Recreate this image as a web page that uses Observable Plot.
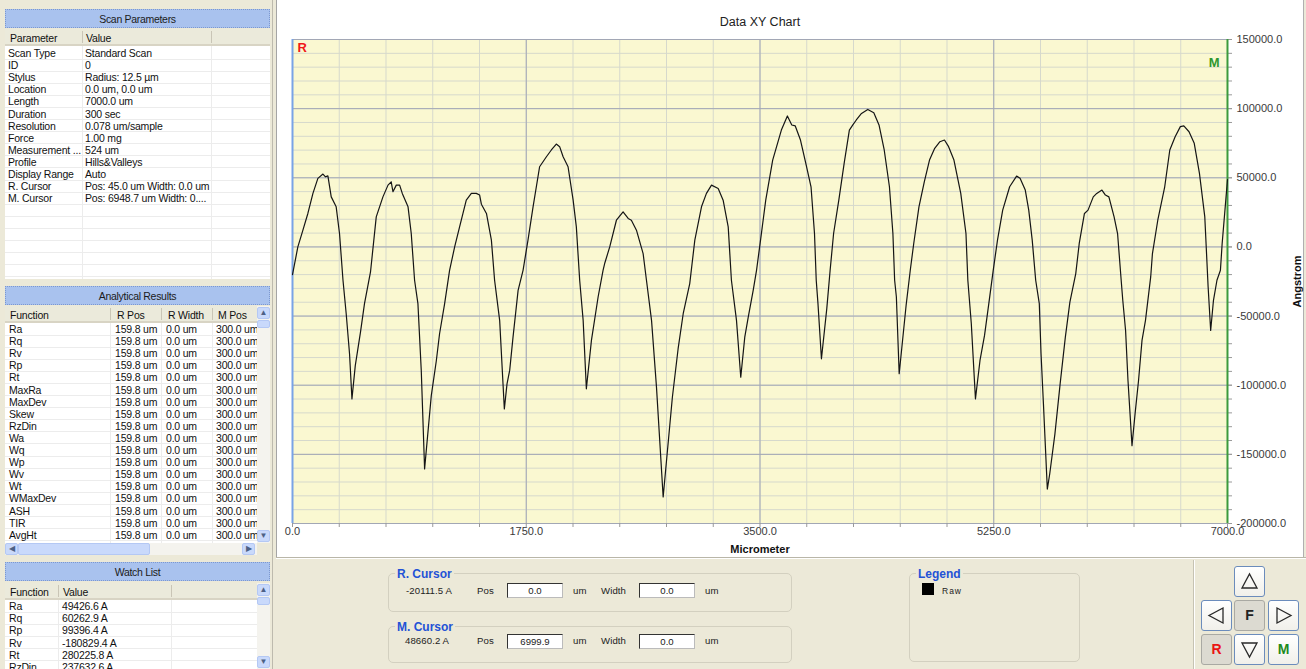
<!DOCTYPE html>
<html><head><meta charset="utf-8">
<script src="https://cdn.jsdelivr.net/npm/d3@7"></script>
<script src="https://cdn.jsdelivr.net/npm/@observablehq/plot@0.6"></script>
<style>
html,body{margin:0;padding:0}
body{width:1306px;height:669px;overflow:hidden;background:#ECE9D8;position:relative;font-family:"Liberation Sans",Arial,sans-serif;font-size:10.5px;color:#111}
.a{position:absolute;box-sizing:border-box}
.t{position:absolute;white-space:nowrap;height:14px;line-height:14px;letter-spacing:-0.2px}
#chart{position:absolute;left:276px;top:0}
</style></head><body>
<script>
// ---- Profile data (Micrometer vs Angstrom) ----
const xPos = [0,40,78,115,153,190,228,247,265,290,327,352,378,402,427,445,470,509,539,584,627,677,715,739,752,777,802,822,865,889,914,939,964,989,1039,1077,1101,1139,1176,1214,1251,1301,1339,1376,1401,1414,1452,1489,1513,1551,1576,1586,1606,1626,1651,1689,1726,1763,1801,1850,1901,1938,1975,2000,2026,2063,2101,2125,2150,2176,2200,2238,2288,2325,2337,2375,2425,2475,2513,2537,2575,2625,2650,2688,2725,2775,2844,2887,2925,2974,3012,3062,3099,3137,3187,3224,3262,3286,3324,3356,3386,3412,3449,3474,3504,3543,3595,3660,3705,3738,3764,3803,3843,3882,3908,3921,3934,3960,4000,4025,4051,4090,4130,4169,4195,4221,4260,4307,4352,4391,4430,4469,4495,4508,4521,4542,4594,4625,4651,4690,4730,4769,4808,4847,4881,4912,4952,5003,5042,5056,5082,5113,5147,5181,5213,5246,5278,5317,5369,5421,5447,5486,5512,5538,5564,5591,5604,5622,5651,5669,5708,5747,5786,5820,5864,5890,5929,5956,5995,6021,6060,6086,6112,6151,6177,6204,6216,6237,6255,6285,6308,6334,6360,6386,6425,6438,6478,6530,6568,6608,6647,6673,6712,6751,6790,6830,6855,6874,6895,6921,6947,6960,7000];
const heightA = [-20100,0,12100,24200,38700,49600,52700,50700,51400,36200,29000,9700,-24100,-48300,-77300,-109900,-85800,-61600,-41000,-18100,21700,36200,44700,47100,39900,44700,44700,38700,29000,9700,-24100,-41000,-89300,-160600,-107500,-82100,-62800,-41000,-16900,0,14500,33800,38700,38700,37500,30900,24200,4900,-24100,-53100,-99000,-117100,-99000,-89300,-65200,-31400,-16900,4900,29000,58000,65200,70100,74400,72500,65200,58000,33800,14500,-24100,-53100,-102600,-67600,-36200,-16900,-12000,0,19300,25400,20600,19300,12100,-4800,-24100,-53100,-101400,-180800,-108700,-73600,-48300,-26500,4900,29000,38700,44700,42300,33800,14500,-24100,-53100,-94200,-65200,-50700,-31400,-16900,4900,33800,62800,84500,94700,88200,87500,77300,60400,43500,9700,-24100,-41000,-80900,-44600,-16900,9700,33800,60400,84500,88200,91800,96500,99400,97000,88200,70100,43500,9700,-24100,-36200,-91700,-42200,-16900,2500,29000,47100,62800,71300,76100,77300,72500,62800,38700,9700,-24100,-55500,-109900,-82100,-64000,-41000,-16900,4900,26600,43500,51200,49600,41100,26600,4900,-24100,-41000,-77200,-113500,-175100,-164200,-135200,-99000,-65200,-39900,-19300,2500,24200,26600,36200,38700,41100,37500,36200,21700,9700,-24100,-38600,-60400,-96600,-143700,-120700,-96600,-67600,-53100,-21700,-4800,19300,43500,70100,79700,87000,87500,83300,74900,53200,21700,-29000,-60400,-38600,-24100,-16900,2500,48700];

// ---- Axis ticks ----
const xMajorTicks = [0,1750,3500,5250,7000];
const xMinorTicks = [0,350,700,1050,1400,1750,2100,2450,2800,3150,3500,3850,4200,4550,4900,5250,5600,5950,6300,6650,7000];
const yMajorTicks = [-200000,-150000,-100000,-50000,0,50000,100000,150000];
const yMinorTicks = [-200000,-190000,-180000,-170000,-160000,-150000,-140000,-130000,-120000,-110000,-100000,-90000,-80000,-70000,-60000,-50000,-40000,-30000,-20000,-10000,0,10000,20000,30000,40000,50000,60000,70000,80000,90000,100000,110000,120000,130000,140000,150000];
const cursorR = 0, cursorM = 6999.9;

// ---- Side panel texts ----
const scanParamNames = ["Scan Type","ID","Stylus","Location","Length","Duration","Resolution","Force","Measurement ...","Profile","Display Range","R. Cursor","M. Cursor"];
const scanParamValues = ["Standard Scan","0","Radius: 12.5 µm","0.0 um, 0.0 um","7000.0 um","300 sec","0.078 um/sample","1.00 mg","524 um","Hills&Valleys","Auto","Pos: 45.0 um Width: 0.0 um","Pos: 6948.7 um Width: 0...."];
const analyticalFns = ["Ra","Rq","Rv","Rp","Rt","MaxRa","MaxDev","Skew","RzDin","Wa","Wq","Wp","Wv","Wt","WMaxDev","ASH","TIR","AvgHt"];
const analyticalRPos = "159.8 um", analyticalRWidth = "0.0 um", analyticalMPos = "300.0 um";
const watchFns = ["Ra","Rq","Rp","Rv","Rt","RzDin"];
const watchValues = ["49426.6 A","60262.9 A","99396.4 A","-180829.4 A","280225.8 A","237632.6 A"];

// ---- helpers ----
function box(x,y,w,h,css){const d=document.createElement('div');d.className='a';Object.assign(d.style,{left:x+'px',top:y+'px',width:w+'px',height:h+'px'},css||{});document.body.appendChild(d);return d;}
function txt(s,x,yc,css){const d=document.createElement('div');d.className='t';d.textContent=s;Object.assign(d.style,{left:x+'px',top:(yc-7)+'px'},css||{});document.body.appendChild(d);return d;}
function hdr(s,y){box(5,y,265,19,{background:'#A9C2EE',border:'1px dotted #7c98d0'});txt(s,5,y+9.5,{width:'265px',textAlign:'center',color:'#1b1b1b',letterSpacing:'-0.3px'});}
function colhead(x,y,w,h){box(x,y,w,h,{background:'#EBEADB',borderBottom:'2px solid #d8d4c4'});}
function vscroll(x,y,h){box(x,y,13,h,{background:'#F4F3EE'});
  const b=(yy,arrow)=>{const e=box(x,yy,13,12,{background:'#C9D9FB',border:'1px solid #B4C8F4',borderRadius:'2px',fontSize:'8px',color:'#4d6185',textAlign:'center',lineHeight:'10px'});e.textContent=arrow;};
  b(y+1,'▲');b(y+h-13,'▼');box(x,y+14,13,8,{background:'#C9D9FB',border:'1px solid #B4C8F4',borderRadius:'2px'});}

// ---- left panel ----
box(272,0,1,669,{background:'#bdbaad'});
hdr('Scan Parameters',9);
box(5,29,265,250,{background:'#fff'});
colhead(5,29,265,17);
box(82,31,1,12,{background:'#c9c5b6'});box(211,31,1,12,{background:'#c9c5b6'});
txt('Parameter',10,38);txt('Value',86,38);
for(let r=0;r<19;r++){box(5,47+r*12.1+11.5,265,1,{background:'#ececec'});}
box(82,46,1,233,{background:'#ececec'});box(211,46,1,233,{background:'#ececec'});
scanParamNames.forEach((s,i)=>{const c=53+i*12.1;txt(s,8,c);txt(scanParamValues[i],85,c);});

hdr('Analytical Results',286);
box(5,306,252,237,{background:'#fff'});
colhead(5,306,252,17);
[110,161,212].forEach(x=>box(x,308,1,12,{background:'#c9c5b6'}));
txt('Function',10,315);txt('R Pos',117,315);txt('R Width',168,315);txt('M Pos',218,315);
for(let r=0;r<18;r++){box(5,323+r*12.1+11.5,252,1,{background:'#ececec'});}
[110,161,212].forEach(x=>box(x,323,1,220,{background:'#ececec'}));
analyticalFns.forEach((s,i)=>{const c=329+i*12.1;txt(s,9,c);txt(analyticalRPos,115,c);txt(analyticalRWidth,166,c);txt(analyticalMPos,216,c);});
vscroll(257,306,237);
box(5,543,252,12,{background:'#F4F3EE'});
box(5,543,13,12,{background:'#C9D9FB',border:'1px solid #B4C8F4',borderRadius:'2px',fontSize:'8px',color:'#4d6185',textAlign:'center',lineHeight:'10px'}).textContent='◀';
box(18,543,132,12,{background:'#C9D9FB',border:'1px solid #B4C8F4',borderRadius:'2px'});
box(242,543,13,12,{background:'#C9D9FB',border:'1px solid #B4C8F4',borderRadius:'2px',fontSize:'8px',color:'#4d6185',textAlign:'center',lineHeight:'10px'}).textContent='▶';

hdr('Watch List',562);
box(5,583,252,86,{background:'#fff'});
colhead(5,583,252,17);
[58,171].forEach(x=>box(x,585,1,12,{background:'#c9c5b6'}));
txt('Function',10,592);txt('Value',63,592);
for(let r=0;r<6;r++){box(5,600+r*12.2+11.5,252,1,{background:'#ececec'});}
[58,171].forEach(x=>box(x,600,1,69,{background:'#ececec'}));
watchFns.forEach((s,i)=>{const c=606+i*12.2;txt(s,9,c);txt(watchValues[i],62,c);});
vscroll(257,583,86);

// ---- chart area ----
box(276,0,1028,557,{background:'#fff',borderLeft:'1px solid #a5a5a5',borderRight:'1px solid #b0b0b0'});
box(276,557,1030,1,{background:'#b9b6a8'});
box(276,558,1030,1,{background:'#fff'});

const profile = xPos.map((x,i)=>({x, y: heightA[i]}));
const fmt = d => d.toFixed(1);
const chart = Plot.plot({
  width: 1030, height: 557,
  marginLeft: 16, marginRight: 79, marginTop: 39, marginBottom: 34,
  style: {background:"transparent", fontFamily:"'Liberation Sans', Arial, sans-serif", fontSize:"11px", color:"#3a3a3a", overflow:"visible"},
  x: {domain:[0,7000], label:null},
  y: {domain:[-200000,150000], label:null},
  marks: [
    Plot.frame({fill:"#FAF8D1", stroke:null}),
    Plot.gridX(xMinorTicks, {stroke:"#d6d9cc", strokeOpacity:1}),
    Plot.gridY(yMinorTicks, {stroke:"#d6d9cc", strokeOpacity:1}),
    Plot.gridX(xMajorTicks, {stroke:"#a2a7b5", strokeOpacity:1}),
    Plot.gridY(yMajorTicks, {stroke:"#a2a7b5", strokeOpacity:1}),
    Plot.frame({stroke:"#a2a7b5"}),
    Plot.axisX(xMinorTicks, {tickSize:4, tickFormat:()=>"", label:null, stroke:"#9a9a9a"}),
    Plot.axisX(xMajorTicks, {tickSize:0, tickPadding:4, tickFormat:fmt, label:null}),
    Plot.axisY(yMinorTicks, {anchor:"right", tickSize:4, tickFormat:()=>"", label:null, stroke:"#9a9a9a"}),
    Plot.axisY(yMajorTicks, {anchor:"right", tickSize:4, tickPadding:5, tickFormat:fmt, label:null, stroke:"#9a9a9a"}),
    Plot.ruleX([cursorR], {stroke:"#79a3e6", strokeWidth:2}),
    Plot.ruleX([cursorM], {stroke:"#3c9a3c", strokeWidth:2}),
    Plot.line(profile, {x:"x", y:"y", stroke:"#151515", strokeWidth:1.2}),
    Plot.text(["R"], {text:d=>d, frameAnchor:"top-left", textAnchor:"start", lineAnchor:"top", dx:5, dy:3, fill:"#f01818", fontWeight:"bold", fontSize:13}),
    Plot.text(["M"], {text:d=>d, frameAnchor:"top-right", textAnchor:"end", lineAnchor:"top", dx:-8, dy:18, fill:"#2e962e", fontWeight:"bold", fontSize:13}),
    Plot.text(["Data XY Chart"], {text:d=>d, frameAnchor:"top", lineAnchor:"middle", dy:-18, fontSize:12.5, fill:"#222"}),
    Plot.text(["Micrometer"], {text:d=>d, frameAnchor:"bottom", lineAnchor:"middle", dy:26, fontSize:11, fontWeight:"bold", fill:"#111"}),
    Plot.text(["Angstrom"], {text:d=>d, frameAnchor:"right", lineAnchor:"middle", textAnchor:"middle", rotate:-90, dx:70, fontSize:11, fontWeight:"bold", fill:"#111"})
  ]
});
const holder = document.createElement('div'); holder.id='chart'; holder.appendChild(chart); document.body.appendChild(holder);

// ---- bottom control panel ----
function group(x,y,w,h,title){box(x,y,w,h,{border:'1px solid #d3d0c0',borderRadius:'5px'});
  txt(title,x+7,y+1,{background:'#ECE9D8',padding:'0 2px',color:'#2352d6',fontWeight:'bold',fontSize:'12px',letterSpacing:'0'});}
const small={fontSize:'9.6px',color:'#222',letterSpacing:'0.1px'};
function input(x,y,v){const e=box(x,y,56,15,{background:'#fff',border:'1px solid #333',borderRightColor:'#bbb',borderBottomColor:'#bbb',textAlign:'center',lineHeight:'13px',fontSize:'9.6px',color:'#222'});e.textContent=v;}
group(388,573,404,39,'R. Cursor');
txt('-20111.5 A',406,591,small);txt('Pos',477,591,small);input(507,583,'0.0');txt('um',573,591,small);txt('Width',601,591,small);input(639,583,'0.0');txt('um',705,591,small);
group(388,626,404,37,'M. Cursor');
txt('48660.2 A',405,641,small);txt('Pos',477,641,small);input(507,634,'6999.9');txt('um',573,641,small);txt('Width',601,641,small);input(639,634,'0.0');txt('um',705,641,small);
group(909,573,171,89,'Legend');
box(922,583,12,12,{background:'#000'});
txt('Raw',942,591,{fontSize:'8.5px',letterSpacing:'1px',color:'#222'});

box(1193,560,1,109,{background:'#c6c3b3'});box(1194,560,1,109,{background:'#fff'});
function btn(x,y,gray,inner){const e=box(x,y,31,31,{background:gray?'#dcdad1':'linear-gradient(#ffffff,#f1f0ea)',border:gray?'1px solid #a9a9a3':'1px solid #6b8cbc',borderRadius:'3px',textAlign:'center',lineHeight:'29px',fontWeight:'bold',fontSize:'14px'});e.innerHTML=inner;return e;}
const tri=p=>`<svg width="29" height="29" style="display:block"><polygon points="${p}" fill="none" stroke="#2a2a2a" stroke-width="1.3"/></svg>`;
btn(1234,566,false,tri('7,21 14.5,7 22,21'));
btn(1201,600,false,tri('21,7 7,14.5 21,22'));
btn(1234,600,true,'<span style="color:#222">F</span>');
btn(1268,600,false,tri('8,7 22,14.5 8,22'));
btn(1201,634,true,'<span style="color:#ea1414">R</span>');
btn(1234,634,false,tri('7,8 14.5,22 22,8'));
btn(1268,634,false,'<span style="color:#1e8a1e">M</span>');
</script>
</body></html>
